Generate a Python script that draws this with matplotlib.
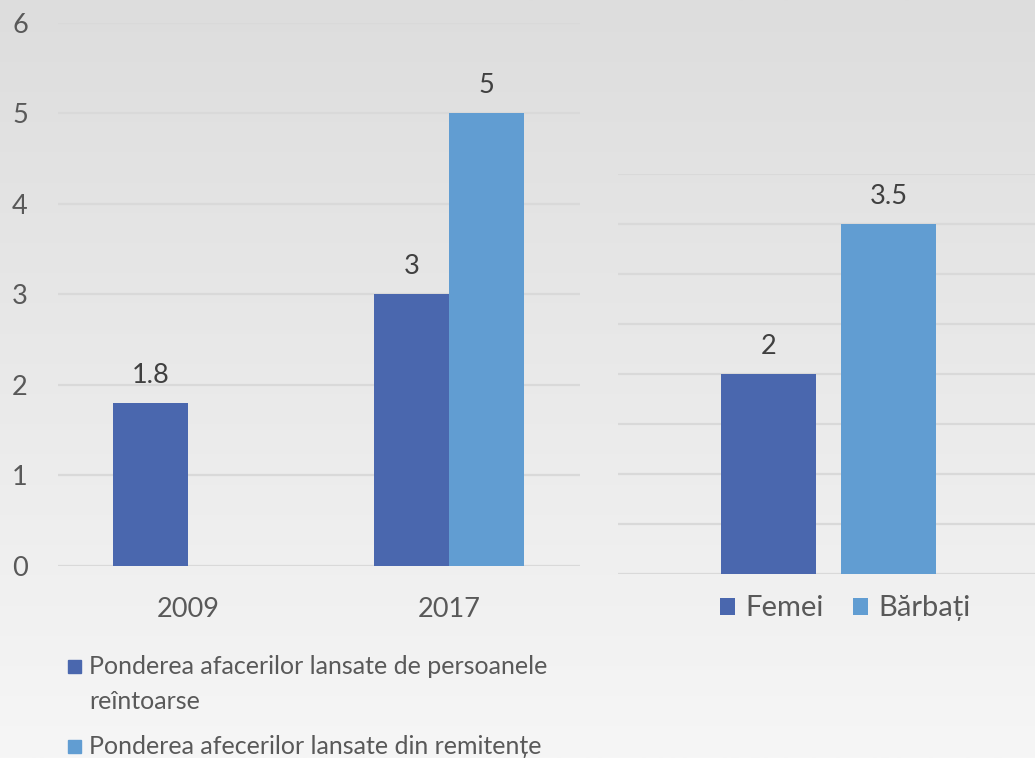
import numpy as np
import matplotlib
matplotlib.use("Agg")
from matplotlib import pyplot as plt
from matplotlib.colors import LinearSegmentedColormap
from matplotlib.patches import Rectangle

# left chart: share of businesses, by year
years = ["2009", "2017"]
returned = [1.8, 3]          # Ponderea afacerilor lansate de persoanele reîntoarse
remittances = [np.nan, 5]    # Ponderea afecerilor lansate din remitențe
left_labels = ["Ponderea afacerilor lansate de persoanele\nreîntoarse",
               "Ponderea afecerilor lansate din remitențe"]

# right chart: by gender
genders = ["Femei", "Bărbați"]
gender_values = [2, 3.5]

dark = "#4a67ae"
light = "#619dd2"
grid_c = "#d9d9d9"
txt = "#595959"
val_c = "#404040"

plt.rcParams['font.family'] = ['Lato', 'DejaVu Sans']

fig = plt.figure(figsize=(10.35, 7.58), dpi=100)
W, H = 1035, 758

# gradient background
bg = fig.add_axes([0, 0, 1, 1], zorder=-10)
cmap = LinearSegmentedColormap.from_list("bg", ["#dddddd", "#f6f6f6"])
bg.imshow(np.linspace(0, 1, 256)[:, None], cmap=cmap, aspect='auto',
          extent=[0, 1, 0, 1])
bg.set_axis_off()

# ---- left chart
ax = fig.add_axes([0.056, 0.2533, 0.504, 0.7164])
ax.patch.set_alpha(0)
x = np.arange(len(years))
w = 0.2874
ax.bar(x - w / 2, returned, w, color=dark, zorder=3)
ax.bar(x + w / 2, remittances, w, color=light, zorder=3)
ax.set_xlim(-0.5, 1.5)
ax.set_ylim(0, 6)
ax.set_yticks(range(0, 7))
ax.set_xticks(x)
ax.set_xticklabels(years)
ax.grid(axis='y', color=grid_c, lw=1.6, zorder=0)
for s in ax.spines.values():
    s.set_visible(False)
ax.tick_params(length=0, labelsize=19.5, colors=txt)
ax.tick_params(axis='y', pad=33)
ax.tick_params(axis='x', pad=22)
for lab in ax.get_yticklabels():
    lab.set_horizontalalignment('left')
for vals, pos in ((returned, x - w / 2), (remittances, x + w / 2)):
    for xi, v in zip(pos, vals):
        if np.isnan(v):
            continue
        ax.annotate(f"{v:g}", (xi, v), xytext=(0, 11), textcoords='offset points',
                    ha='center', va='bottom', fontsize=19.5, color=val_c)

# left legend, drawn by hand so the swatch sits on the first text line
for lab, col, ypix in zip(left_labels, [dark, light], [667, 747]):
    fig.add_artist(Rectangle((68 / W, 1 - (ypix + 6) / H), 13 / W, 13 / H,
                             transform=fig.transFigure, color=col))
    fig.text(89 / W, 1 - (ypix - 12) / H, lab, ha='left', va='top',
             fontsize=18, color=txt, linespacing=1.62)

# ---- right chart
ax2 = fig.add_axes([0.597, 0.2427, 0.407, 0.5277])
ax2.patch.set_alpha(0)
gx = np.arange(len(genders))
bars = ax2.bar(gx, gender_values, 0.79, color=[dark, light], zorder=3)
ax2.set_xlim(-1.254, 2.254)
ax2.set_ylim(0, 4)
ax2.set_yticks(np.arange(0, 4.01, 0.5))
ax2.set_yticklabels([])
ax2.set_xticks([])
ax2.grid(axis='y', color=grid_c, lw=1.6, zorder=0)
for s in ax2.spines.values():
    s.set_visible(False)
ax2.tick_params(length=0)
for xi, v in zip(gx, gender_values):
    ax2.annotate(f"{v:g}", (xi, v), xytext=(0, 11), textcoords='offset points',
                 ha='center', va='bottom', fontsize=19.5, color=val_c)
ax2.legend(bars, genders, loc='upper center', bbox_to_anchor=(0.54, 0.012),
           ncol=2, frameon=False, fontsize=21, labelcolor=txt,
           handlelength=0.52, handleheight=0.52, handletextpad=0.35,
           columnspacing=1.0)

fig.savefig("out.png", dpi=100)
